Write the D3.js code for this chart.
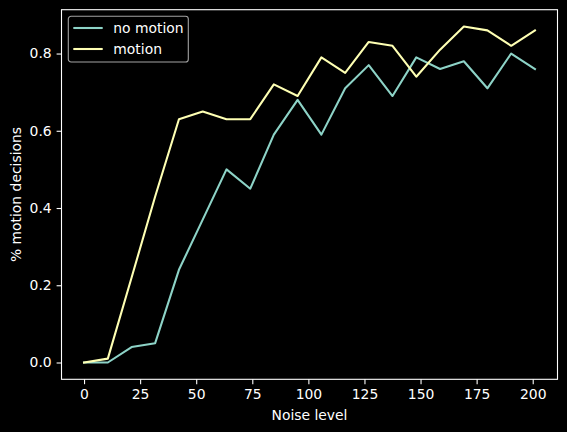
<!DOCTYPE html>
<html>
<head>
<meta charset="utf-8">
<script src="https://cdn.jsdelivr.net/npm/d3@7"></script>
<style>
  body { margin: 0; background: #000; }
  text { font-family: "DejaVu Sans", sans-serif; fill: #fff; }
</style>
</head>
<body>
<script>
// noise levels on the x axis
let noiseLevels = [0, 10.6, 21.2, 31.7, 42.3, 52.9, 63.5, 74.1, 84.6, 95.2,
  105.8, 116.4, 126.9, 137.5, 148.1, 158.7, 169.3, 179.8, 190.4, 201];
let noMotion = [0.00, 0.00, 0.04, 0.05, 0.24, 0.37, 0.50, 0.45, 0.59, 0.68,
  0.59, 0.71, 0.77, 0.69, 0.79, 0.76, 0.78, 0.71, 0.80, 0.76];
let motion = [0.00, 0.01, 0.22, 0.43, 0.63, 0.65, 0.63, 0.63, 0.72, 0.69,
  0.79, 0.75, 0.83, 0.82, 0.74, 0.81, 0.87, 0.86, 0.82, 0.86];
let seriesNames = ["no motion", "motion"];
let xTicks = [0, 25, 50, 75, 100, 125, 150, 175, 200];
let yTicks = [0.0, 0.2, 0.4, 0.6, 0.8];

let svgWidth = 567, svgHeight = 432;
let margin = {top: 9.7, right: 9.5, bottom: 52.7, left: 61.5};
let width = svgWidth - margin.left - margin.right;
let height = svgHeight - margin.top - margin.bottom;
let colors = ["#8dd3c7", "#feffb3"];

let svg = d3.select("body").append("svg")
  .attr("width", svgWidth)
  .attr("height", svgHeight)
  .style("background", "#000");

let chartGroup = svg.append("g")
  .attr("transform", `translate(${margin.left}, ${margin.top})`);

// matplotlib style 5% padding on both axes
let xMin = d3.min(noiseLevels), xMax = d3.max(noiseLevels);
let xPad = (xMax - xMin) * 0.05;
let xScale = d3.scaleLinear()
  .domain([xMin - xPad, xMax + xPad])
  .range([0, width]);

let yMax = d3.max(noMotion.concat(motion));
let yPad = yMax * 0.05;
let yScale = d3.scaleLinear()
  .domain([0 - yPad, yMax + yPad])
  .range([height, 0]);

let bottomAxis = d3.axisBottom(xScale)
  .tickValues(xTicks)
  .tickSize(4.9)
  .tickPadding(4.9)
  .tickFormat(d3.format("d"));
let leftAxis = d3.axisLeft(yScale)
  .tickValues(yTicks)
  .tickSize(4.9)
  .tickPadding(4.9)
  .tickFormat(d3.format(".1f"));

let xAxisG = chartGroup.append("g")
  .attr("transform", `translate(0, ${height})`)
  .call(bottomAxis);
let yAxisG = chartGroup.append("g")
  .call(leftAxis);

[xAxisG, yAxisG].forEach(g => {
  g.select(".domain").remove();
  g.selectAll(".tick line").attr("stroke", "#fff").attr("stroke-width", 1.1);
  g.selectAll(".tick text")
    .style("font-family", "DejaVu Sans, sans-serif")
    .style("font-size", "13.9px")
    .attr("fill", "#fff");
});

// lines
let line = d3.line()
  .x((d, i) => xScale(noiseLevels[i]))
  .y(d => yScale(d));

[noMotion, motion].forEach((series, i) => {
  chartGroup.append("path")
    .datum(series)
    .attr("fill", "none")
    .attr("stroke", colors[i])
    .attr("stroke-width", 2.08)
    .attr("stroke-linejoin", "round")
    .attr("stroke-linecap", "square")
    .attr("d", line);
});

// frame
chartGroup.append("rect")
  .attr("width", width)
  .attr("height", height)
  .attr("fill", "none")
  .attr("stroke", "#fff")
  .attr("stroke-width", 1.1);

// axis titles
chartGroup.append("text")
  .attr("x", width / 2)
  .attr("y", height + 41)
  .style("text-anchor", "middle")
  .style("font-size", "13.9px")
  .text("Noise level");

chartGroup.append("text")
  .attr("transform", "rotate(-90)")
  .attr("x", -height / 2)
  .attr("y", -41)
  .style("text-anchor", "middle")
  .style("font-size", "13.9px")
  .text("% motion decisions");

// legend
let legend = chartGroup.append("g")
  .attr("transform", "translate(6.8, 6.6)");
legend.append("rect")
  .attr("width", 120)
  .attr("height", 45.7)
  .attr("rx", 2.8)
  .attr("fill", "#000")
  .attr("fill-opacity", 0.8)
  .attr("stroke", "#cccccc")
  .attr("stroke-opacity", 0.8)
  .attr("stroke-width", 1.1);

seriesNames.forEach((name, i) => {
  let cy = 11.7 + i * 21;
  legend.append("line")
    .attr("x1", 5).attr("x2", 34.4)
    .attr("y1", cy).attr("y2", cy)
    .attr("stroke", colors[i])
    .attr("stroke-width", 2.08);
  legend.append("text")
    .attr("x", 45)
    .attr("y", cy)
    .attr("dy", "0.36em")
    .style("font-size", "13.9px")
    .text(name);
});
</script>
</body>
</html>
